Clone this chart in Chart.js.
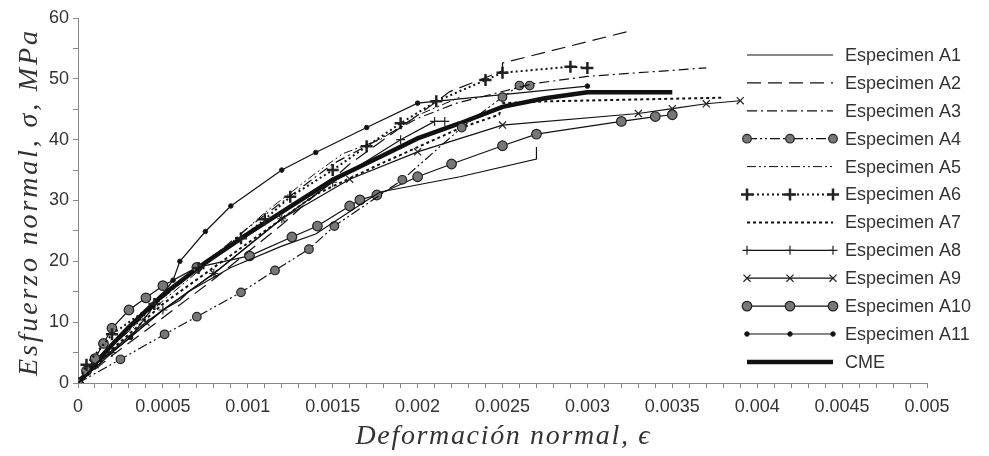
<!DOCTYPE html>
<html><head><meta charset="utf-8">
<script src="https://cdn.jsdelivr.net/npm/chart.js@4/dist/chart.umd.min.js"></script>
<style>html,body{margin:0;padding:0;background:#fff;}#wrap{width:989px;height:456px;position:relative;}</style>
</head><body><div id="wrap"><canvas id="c" width="989" height="456"></canvas></div>
<script>
// Data: [strain, stress MPa]
const seriesNames = ["Especimen A1","Especimen A2","Especimen A3","Especimen A4","Especimen A5","Especimen A6","Especimen A7","Especimen A8","Especimen A9","Especimen A10","Especimen A11","CME"];
const A1 = [[0,0],[0.0002,5],[0.0005,12],[0.0006,13.6],[0.00065,15],[0.0009,19],[0.0012,22.5],[0.0014,24.5],[0.0017,30],[0.00178,31.4],[0.00225,33.9],[0.0027,36.8],[0.0027,38.8]];
const A2 = [[0,0],[0.0002,4.5],[0.00048,10.3],[0.00082,17.5],[0.0012,26],[0.0016,36],[0.002,44],[0.00219,47.9],[0.0025,51.3],[0.0025,52.6],[0.00327,58]];
const A3 = [[0,0],[0.0002,6],[0.0005,14],[0.001,25.5],[0.0015,36],[0.002,43.5],[0.00223,46],[0.00268,49.2],[0.003,50.4],[0.0037,51.8]];
const A4 = [[0,0],[0.00025,3.9],[0.00051,8],[0.0007,10.9],[0.00096,14.9],[0.00116,18.5],[0.00136,22],[0.00151,25.8],[0.00191,33.4],[0.00226,42],[0.0025,47],[0.0026,48.9],[0.00266,48.9]];
const A5 = [[0,0],[0.0002,6],[0.0005,13.5],[0.0008,20.5],[0.0011,28],[0.0014,34.5],[0.00156,37.7],[0.00178,40],[0.002,44],[0.00225,47]];
const A6 = [[0,0],[0.00005,3],[0.0002,8],[0.00045,13],[0.00071,18.9],[0.00096,23.8],[0.0011,26.9],[0.00125,30.6],[0.0015,35],[0.0017,38.9],[0.0019,42.7],[0.00211,46.3],[0.0024,49.8],[0.0025,51],[0.0029,52],[0.003,51.8]];
const A7 = [[0,0],[0.0002,5.5],[0.0005,13],[0.001,23],[0.0014,31],[0.00178,36],[0.00225,41.9],[0.00248,44.1],[0.0025,46],[0.00276,46.3],[0.0038,46.9]];
const A8 = [[0,0],[0.0002,5],[0.0005,12],[0.0008,18],[0.0012,27],[0.0015,33],[0.0019,40],[0.0021,43],[0.00216,43]];
const A9 = [[0,0],[0.0001,3],[0.0004,10],[0.0008,18],[0.0012,27],[0.0016,33.5],[0.002,38],[0.0025,42.4],[0.0033,44.3],[0.0035,45.1],[0.0037,45.9],[0.0039,46.4]];
const A10 = [[0,0],[0.00005,2],[0.0001,4],[0.00015,6.5],[0.0002,9],[0.0003,12],[0.0004,14],[0.0005,16],[0.0007,19],[0.00101,20.9],[0.00126,24],[0.00141,25.8],[0.0016,29.1],[0.00166,30.1],[0.00176,30.9],[0.002,33.9],[0.0022,36],[0.0025,39],[0.0027,40.9],[0.0032,43],[0.0034,43.8],[0.0035,44.1]];
const A11 = [[0,0],[0.0001,3],[0.00031,7.5],[0.00056,16.9],[0.0006,20],[0.00075,24.9],[0.0009,29.1],[0.0012,35],[0.0014,37.9],[0.0017,42],[0.002,46],[0.003,48.8]];
const CME = [[0,0],[0.0001,3.2],[0.0002,6.3],[0.0003,9.2],[0.0005,14.5],[0.00075,19.8],[0.001,24.5],[0.00125,29],[0.0015,33.4],[0.00178,37.2],[0.002,40.2],[0.00225,42.7],[0.0025,45.4],[0.00275,46.8],[0.003,47.8],[0.0035,47.8]];
const xTickLabels = ["0","0.0005","0.001","0.0015","0.002","0.0025","0.003","0.0035","0.004","0.0045","0.005"];
const yTickLabels = ["0","10","20","30","40","50","60"];
const xTitle = "Deformación normal, ϵ";
const yTitle = "Esfuerzo normal, σ, MPa";

const allSeries = [A1,A2,A3,A4,A5,A6,A7,A8,A9,A10,A11,CME];
const styles = [
  {w:1.2, dash:[], ps:false},
  {w:1.2, dash:[14,7], ps:false},
  {w:1.2, dash:[10,4,2,4], ps:false},
  {w:1.2, dash:[10,3,2,3,2,3], ps:'circle', r:4.3, pb:'#777', pbw:1.2},
  {w:1, dash:[9,3,2,3,2,3], ps:false},
  {w:2, dash:[2,3], ps:'cross', r:6, pb:'#111', pbw:2.5},
  {w:2, dash:[3,3], ps:false},
  {w:1.2, dash:[], ps:'cross', r:4.5, pb:'#111', pbw:1.2},
  {w:1.2, dash:[], ps:'crossRot', r:5, pb:'#111', pbw:1.2},
  {w:1.2, dash:[], ps:'circle', r:4.8, pb:'#777', pbw:1.2},
  {w:1.2, dash:[], ps:'circle', r:2.3, pb:'#111', pbw:1},
  {w:4.5, dash:[], ps:false}
];
const datasets = allSeries.map((s,i)=>{
  const st = styles[i];
  return {
    label: seriesNames[i],
    data: s.map(p=>({x:p[0],y:p[1]})),
    showLine:true, fill:false, tension:0,
    borderColor:'#111', borderWidth:st.w, borderDash:st.dash,
    pointStyle: st.ps || 'circle', pointRadius: st.ps ? st.r : 0, pointHoverRadius:0,
    pointBackgroundColor: st.pb || '#111', pointBorderColor:'#222', pointBorderWidth: st.pbw || 1
  };
});

const legendPlugin = {
  id:'customLegend',
  afterDraw(chart){
    const ctx = chart.ctx;
    chart.data.datasets.forEach((ds,i)=>{
      const y = 55 + i*27.9;
      ctx.save();
      ctx.strokeStyle = ds.borderColor; ctx.lineWidth = ds.borderWidth;
      ctx.setLineDash(ds.borderDash||[]);
      ctx.beginPath(); ctx.moveTo(747,y); ctx.lineTo(833,y); ctx.stroke();
      ctx.setLineDash([]);
      if (ds.pointRadius > 0) {
        [747,790,833].forEach(x=>{
          ctx.fillStyle = ds.pointBackgroundColor; ctx.strokeStyle = ds.pointBorderColor; ctx.lineWidth = ds.pointBorderWidth;
          Chart.helpers.drawPoint(ctx,{pointStyle:ds.pointStyle, radius:ds.pointRadius, borderWidth:ds.pointBorderWidth, rotation:0}, x, y);
        });
      }
      ctx.fillStyle = '#333';
      ctx.font = '18px "Liberation Sans", Arial, sans-serif';
      ctx.textBaseline = 'middle'; ctx.textAlign = 'left';
      ctx.fillText(ds.label, 845, y+1);
      ctx.restore();
    });
  }
};

function drawStretched(ctx, text, cx, cy, target){
  ctx.letterSpacing = '0px';
  const w = ctx.measureText(text).width;
  const sp = Math.max(0, (target - w) / (text.length - 1));
  ctx.letterSpacing = sp + 'px';
  const w2 = ctx.measureText(text).width - sp;
  ctx.textAlign = 'left'; ctx.textBaseline = 'middle';
  ctx.fillText(text, cx - w2/2, cy);
}
const titlePlugin = {
  id:'axisTitles',
  afterDraw(chart){
    const ctx = chart.ctx, ca = chart.chartArea;
    ctx.save();
    ctx.fillStyle = '#333';
    ctx.font = 'italic 28px "Liberation Serif", "DejaVu Serif", serif';
    drawStretched(ctx, xTitle, (ca.left+ca.right)/2, 437, 294);
    ctx.translate(30, (ca.top+ca.bottom)/2 + 3);
    ctx.rotate(-Math.PI/2);
    drawStretched(ctx, yTitle, 0, 0, 345);
    ctx.restore();
  }
};

new Chart(document.getElementById('c'), {
  type:'scatter',
  data:{datasets},
  plugins:[legendPlugin, titlePlugin],
  options:{
    responsive:false, animation:false, events:[],
    layout:{padding:{top:18,right:62,left:0,bottom:0}},
    plugins:{legend:{display:false}, tooltip:{enabled:false}},
    scales:{
      x:{
        type:'linear', min:0, max:0.005,
        afterFit(s){ s.height = 73; },
        border:{display:true,color:'#888',width:1},
        grid:{display:true, drawOnChartArea:false, drawTicks:true, tickLength:5, color:'#888'},
        ticks:{stepSize:0.0001, autoSkip:false, maxRotation:0, maxTicksLimit:100, padding:8, color:'#333',
          font:{family:'"Liberation Sans", Arial, sans-serif', size:18},
          callback:(v)=>{ const k=Math.round(v*10000); return k%5===0 ? xTickLabels[k/5] : ''; }},
        title:{display:false}
      },
      y:{
        type:'linear', min:0, max:60,
        afterFit(s){ s.width = 78; },
        border:{display:true,color:'#888',width:1},
        grid:{display:true, drawOnChartArea:false, drawTicks:true, tickLength:5, color:'#888'},
        ticks:{stepSize:5, autoSkip:false, padding:4, color:'#333',
          font:{family:'"Liberation Sans", Arial, sans-serif', size:18},
          callback:(v)=>{ const k=Math.round(v); return k%10===0 ? yTickLabels[k/10] : ''; }},
        title:{display:false}
      }
    }
  }
});
</script></body></html>
